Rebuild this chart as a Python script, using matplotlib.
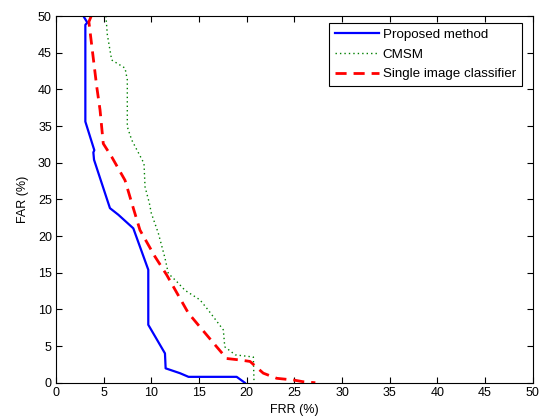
"""FAR vs FRR curves for three classifiers (MATLAB-style figure)."""
import matplotlib
matplotlib.use("Agg")
import matplotlib.pyplot as plt

# Proposed method
prop_frr = [2.87, 3.29, 3.08, 3.08, 4.02, 3.92, 3.99, 5.38, 5.66, 6.54, 8.11,
            9.68, 9.68, 11.43, 11.5, 13.0, 13.9, 18.95, 19.8]
prop_far = [50.0, 49.1, 48.8, 35.6, 31.7, 31.4, 30.4, 24.9, 23.8, 22.9, 21.05,
            15.4, 7.9, 4.0, 1.96, 1.3, 0.8, 0.8, 0.0]

# CMSM
cmsm_frr = [5.24, 5.38, 5.84, 7.24, 7.48, 7.48, 7.94, 9.23, 9.34, 9.79, 10.0,
            10.73, 11.43, 11.78, 12.66, 13.53, 15.1, 15.97, 17.55, 17.7, 18.8,
            20.7, 20.77]
cmsm_far = [50.0, 47.5, 44.0, 42.9, 41.3, 34.9, 33.1, 29.9, 26.7, 24.5, 23.1,
            20.4, 17.0, 14.9, 13.8, 12.6, 11.3, 9.9, 7.2, 4.9, 3.8,
            3.5, 0.0]

# Single image classifier
single_frr = [3.7, 3.45, 4.27, 4.62, 4.96, 5.84, 7.24, 8.11, 8.81, 10.38, 11.61,
              13.88, 15.1, 16.85, 17.9, 19.3, 20.35, 21.74, 23.15, 24.9, 25.9,
              27.2]
single_far = [50.0, 49.2, 40.4, 37.2, 32.6, 30.8, 27.6, 23.8, 20.8, 17.2, 14.7,
              9.5, 7.6, 4.9, 3.3, 3.1, 2.9, 1.3, 0.6, 0.37, 0.14,
              0.0]

TICKS = list(range(0, 51, 5))


def main():
    plt.rcParams.update({
        "font.family": ["Liberation Sans", "DejaVu Sans"],
        "font.size": 9,
    })
    fig = plt.figure(figsize=(5.43, 4.19), dpi=100)
    ax = fig.add_axes([0.1031, 0.0866, 0.878, 0.8752])

    ax.plot(prop_frr, prop_far, color="#0000ff", linewidth=1.6,
            label="Proposed method")
    ax.plot(cmsm_frr, cmsm_far, color="#008000", linewidth=1.0,
            linestyle=(0, (1, 2.2)), label="CMSM")
    ax.plot(single_frr, single_far, color="#ff0000", linewidth=2.0,
            linestyle=(0, (4, 2.5)), label="Single image classifier")

    ax.set_xlim(0, 50)
    ax.set_ylim(0, 50)
    ax.set_xticks(TICKS)
    ax.set_yticks(TICKS)
    ax.tick_params(direction="in", top=True, right=True, length=4,
                   width=0.8, labelsize=9, pad=3)
    for sp in ax.spines.values():
        sp.set_linewidth(0.8)
    ax.set_xlabel("FRR (%)", fontsize=9, labelpad=4)
    ax.set_ylabel("FAR (%)", fontsize=9, labelpad=6)

    leg = ax.legend(loc="upper right", bbox_to_anchor=(0.977, 0.9817),
                    borderaxespad=0, fontsize=9.6, fancybox=False,
                    framealpha=1, edgecolor="black", borderpad=0.45,
                    labelspacing=0.55, handlelength=3.3, handletextpad=0.25)
    leg.get_frame().set_linewidth(0.8)

    fig.savefig("out.png", dpi=100)
    plt.close(fig)


if __name__ == "__main__":
    main()
